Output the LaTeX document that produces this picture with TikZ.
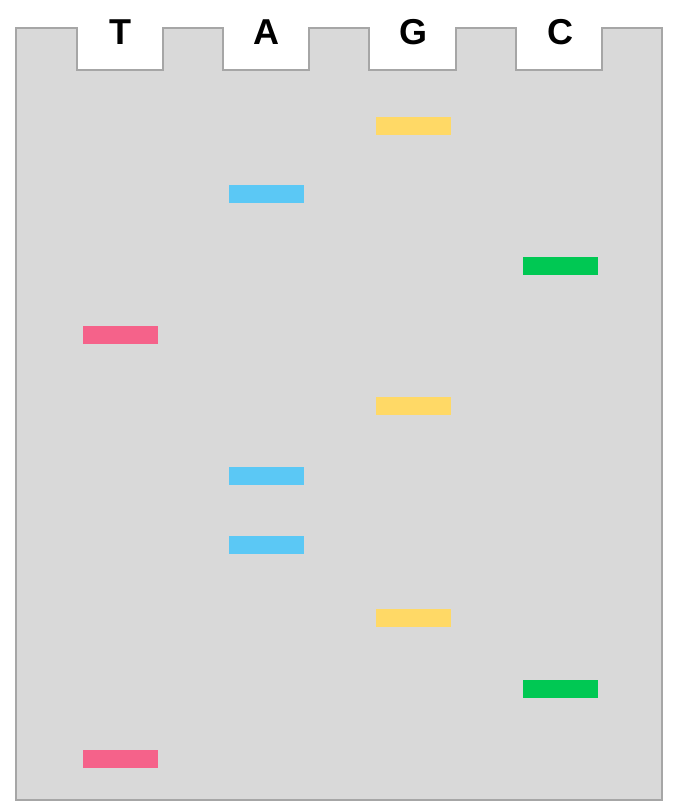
\documentclass[tikz,border=0pt]{standalone}
\usepackage{fontspec}
\setmainfont{Liberation Sans}
\definecolor{gel}{HTML}{D9D9D9}
\definecolor{gelline}{HTML}{A6A6A6}
\definecolor{bT}{HTML}{F5628A}
\definecolor{bA}{HTML}{5BC8F5}
\definecolor{bG}{HTML}{FFD966}
\definecolor{bC}{HTML}{00C853}
\begin{document}
\begin{tikzpicture}[x=1pt,y=-1pt,
  band/.style={inner sep=0pt,minimum width=75pt,minimum height=18pt},
  lbl/.style={font=\fontsize{36}{36}\selectfont\bfseries,inner sep=0pt}]
\useasboundingbox (0,0) rectangle (673,808);
\fill[white] (0,0) rectangle (673,808);
\draw[gelline,line width=2pt,fill=gel]
  (16,28) -- (77,28) -- (77,70) -- (163,70) -- (163,28)
  -- (223,28) -- (223,70) -- (309,70) -- (309,28)
  -- (369,28) -- (369,70) -- (456,70) -- (456,28)
  -- (516,28) -- (516,70) -- (602,70) -- (602,28)
  -- (662,28) -- (662,800) -- (16,800) -- cycle;
\node[lbl] (lT) at (120,32) {T};
\node[lbl] (lA) at (266,32) {A};
\node[lbl] (lG) at (413,32) {G};
\node[lbl] (lC) at (560,32) {C};
\node[band,fill=bG] (g1) at (413,126) {};
\node[band,fill=bA] (a1) at (266,194) {};
\node[band,fill=bC] (c1) at (560,266) {};
\node[band,fill=bT] (t1) at (120,335) {};
\node[band,fill=bG] (g2) at (413,406) {};
\node[band,fill=bA] (a2) at (266,476) {};
\node[band,fill=bA] (a3) at (266,545) {};
\node[band,fill=bG] (g3) at (413,618) {};
\node[band,fill=bC] (c2) at (560,689) {};
\node[band,fill=bT] (t2) at (120,759) {};
\end{tikzpicture}
\end{document}
